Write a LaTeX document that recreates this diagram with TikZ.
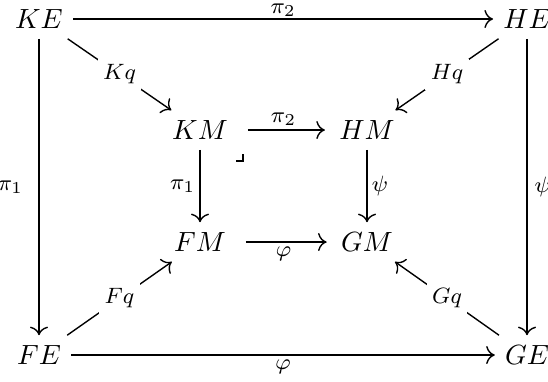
\documentclass[tikz,border=0pt]{standalone}
\usetikzlibrary{cd}
\begin{document}
\begin{tikzpicture}[x=0.36pt,y=-0.36pt,
  obj/.style={inner xsep=3.5pt,inner ysep=3.5pt},
  iobj/.style={inner xsep=5pt,inner ysep=3.5pt},
  arr/.style={-{cm to},line width=0.5pt},
  lab/.style={font=\footnotesize,inner sep=1.5pt},
  desc/.style={font=\footnotesize,fill=white,inner sep=2pt}]
\useasboundingbox (0,0) rectangle (548,381);
\node[obj] (KE) at (39,19) {$KE$};
\node[obj] (HE) at (527,19) {$HE$};
\node[obj] (FE) at (39,355) {$FE$};
\node[obj] (GE) at (527,355) {$GE$};
\node[iobj] (KM) at (200,130) {$KM$};
\node[iobj] (HM) at (367,130) {$HM$};
\node[iobj] (FM) at (200,242) {$FM$};
\node[iobj] (GM) at (367,242) {$GM$};
\draw[arr] (KE) -- node[lab,above=-1pt] {$\pi_2$} (HE);
\draw[arr] (KE) -- node[lab,left=4pt] {$\pi_1$} (FE);
\draw[arr] (HE) -- node[lab,right=1pt] {$\psi$} (GE);
\draw[arr] (FE) -- node[lab,below] {$\varphi$} (GE);
\draw[arr,shorten <=2pt] (KM) -- node[lab,above] {$\pi_2$} (HM);
\draw[arr] (KM) -- node[lab,left] {$\pi_1$} (FM);
\draw[arr] (HM) -- node[lab,right] {$\psi$} (GM);
\draw[arr,shorten <=2pt] (FM) -- node[lab,below] {$\varphi$} (GM);
\draw[arr] (KE) -- node[desc] {$Kq$} (KM);
\draw[arr] (HE) -- node[desc] {$Hq$} (HM);
\draw[arr] (FE) -- node[desc] {$Fq$} (FM);
\draw[arr] (GE) -- node[desc] {$Gq$} (GM);
\draw[line width=0.5pt] (236,161) -- (243,161) -- (243,154);
\end{tikzpicture}
\end{document}
